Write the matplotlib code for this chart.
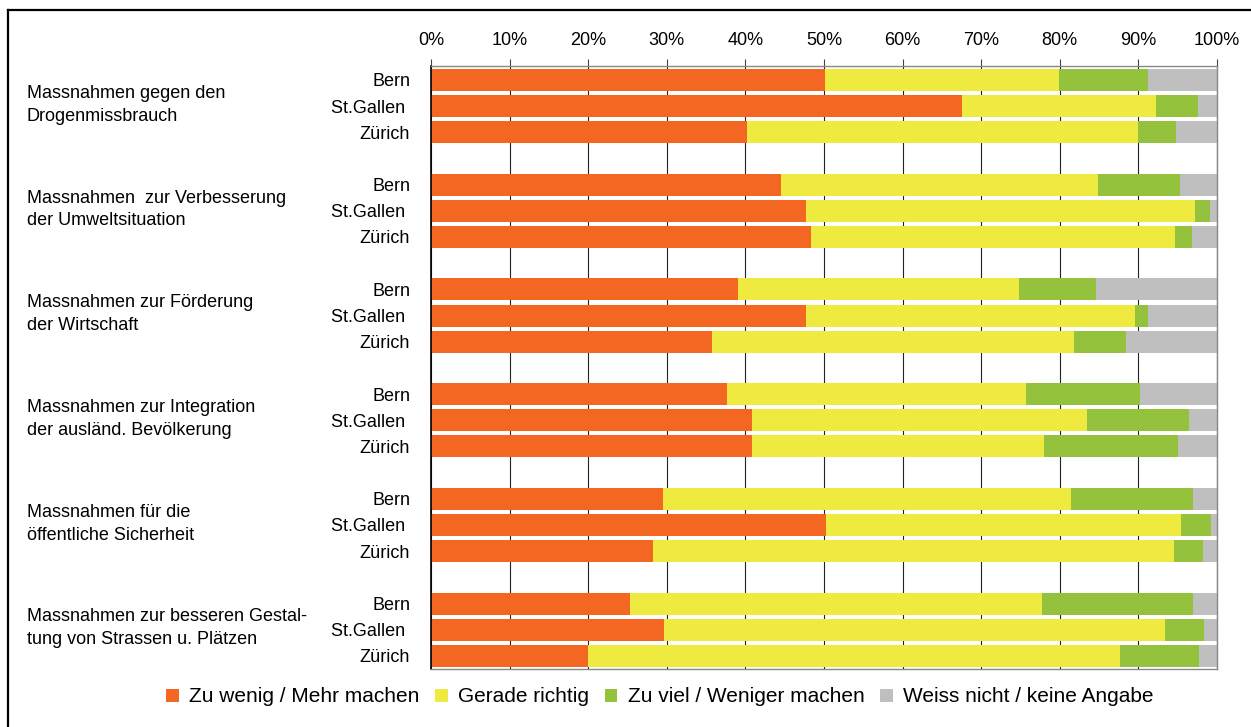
import numpy as np
import matplotlib.pyplot as plt
import matplotlib.transforms as mtransforms
from matplotlib.lines import Line2D
from matplotlib.patches import Patch

plt.rcParams['font.family'] = ['Liberation Sans', 'DejaVu Sans']

# Fragen (Gruppen) und Städte
groups = [
    'Massnahmen gegen den\nDrogenmissbrauch',
    'Massnahmen  zur Verbesserung\nder Umweltsituation',
    'Massnahmen zur Förderung\nder Wirtschaft',
    'Massnahmen zur Integration\nder ausländ. Bevölkerung',
    'Massnahmen für die\nöffentliche Sicherheit',
    'Massnahmen zur besseren Gestal-\ntung von Strassen u. Plätzen',
]
cities = ['Bern', 'St.Gallen ', 'Zürich']

# Anteile in % (pro Gruppe: Bern, St.Gallen, Zürich)
zu_wenig = [50.1, 67.6, 40.2,
            44.5, 47.7, 48.3,
            39.0, 47.7, 35.8,
            37.7, 40.9, 40.8,
            29.5, 50.3, 28.2,
            25.3, 29.7, 20.0]
gerade_richtig = [29.8, 24.6, 49.8,
                  40.3, 49.5, 46.4,
                  35.8, 41.9, 46.0,
                  38.0, 42.5, 37.2,
                  51.9, 45.1, 66.3,
                  52.4, 63.7, 67.7]
zu_viel = [11.3, 5.4, 4.8,
           10.5, 1.9, 2.1,
           9.8, 1.6, 6.6,
           14.5, 13.0, 17.0,
           15.5, 3.9, 3.7,
           19.2, 4.9, 10.0]
weiss_nicht = [8.8, 2.4, 5.2,
               4.7, 0.9, 3.2,
               15.4, 8.8, 11.6,
               9.8, 3.6, 5.0,
               3.1, 0.7, 1.8,
               3.1, 1.7, 2.3]

labels = ['Zu wenig / Mehr machen', 'Gerade richtig',
          'Zu viel / Weniger machen', 'Weiss nicht / keine Angabe']
colors = ['#F46722', '#EEEA40', '#95C23D', '#BFBFBF']

# Positionen: 3 Balken pro Gruppe + eine Lücke
pos = []
for g in range(len(groups)):
    for c in range(len(cities)):
        pos.append(g * 4 + c)
pos = np.array(pos)

fig = plt.figure(figsize=(12.51, 7.27), dpi=100)
ax = fig.add_axes([431 / 1251, 58 / 727, 786 / 1251, 603 / 727])

series = [zu_wenig, gerade_richtig, zu_viel, weiss_nicht]
left = np.zeros(len(pos))
for vals, col, lab in zip(series, colors, labels):
    vals = np.array(vals)
    ax.barh(pos, vals, left=left, height=0.84, color=col, label=lab, zorder=2)
    left += vals

ax.set_xlim(0, 100)
ax.set_ylim(22.5, -0.53)
ax.set_xticks(np.arange(0, 101, 10))
ax.set_xticklabels([f'{v}%' for v in range(0, 101, 10)], fontsize=13)
ax.xaxis.tick_top()
ax.tick_params(axis='x', direction='out', length=5, width=0.8, color='#444444', pad=7)
ax.set_yticks(pos)
ax.set_yticklabels(cities * len(groups), fontsize=13)
ax.tick_params(axis='y', length=0, pad=15)
ax.grid(axis='x', color='#222222', linewidth=0.8, zorder=0)
ax.set_axisbelow(True)

for s in ['top', 'right', 'bottom']:
    ax.spines[s].set_color('#888888')
    ax.spines[s].set_linewidth(1.0)
ax.spines['left'].set_color('black')
ax.spines['left'].set_linewidth(1.2)

# Gruppenbeschriftungen links (x in Figurkoordinaten, y in Daten)
trans = mtransforms.blended_transform_factory(fig.transFigure, ax.transData)
for g, txt in enumerate(groups):
    yc = g * 4 + 1 - 0.05
    ax.text(27 / 1251, yc, txt, transform=trans,
            fontsize=13, ha='left', va='center', linespacing=1.45)

# Legende
handles = [Patch(facecolor=c, edgecolor='none') for c in colors]
fig.legend(handles, labels, loc='center', bbox_to_anchor=(660 / 1251, 30 / 727),
           ncol=4, frameon=False, fontsize=15, handlelength=0.6, handleheight=0.6,
           handletextpad=0.5, columnspacing=0.75)

# Rahmen (nur oben und links sichtbar)
fig.add_artist(Line2D([8 / 1251, 1.0], [1 - 10 / 727, 1 - 10 / 727],
                      transform=fig.transFigure, color='black', linewidth=1.6))
fig.add_artist(Line2D([8 / 1251, 8 / 1251], [0.0, 1 - 10 / 727],
                      transform=fig.transFigure, color='black', linewidth=1.6))

plt.savefig('out.png', dpi=100)
plt.close()
